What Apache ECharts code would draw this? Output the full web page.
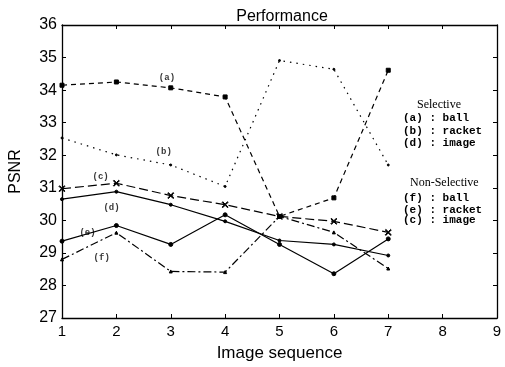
<!DOCTYPE html>
<html>
<head>
<meta charset="utf-8">
<script src="https://cdn.jsdelivr.net/npm/echarts@6/dist/echarts.min.js"></script>
<style>
  html, body { margin: 0; padding: 0; background: #fff; }
  #chart { width: 505px; height: 367px; }
</style>
</head>
<body>
<div id="chart"></div>
<script>
// image sequence index
const frames = [1, 2, 3, 4, 5, 6, 7];

// PSNR values
const ballSel      = [34.15, 34.25, 34.07, 33.79, 30.12, 30.69, 34.61]; // (a)
const racketSel    = [32.53, 32.01, 31.70, 31.04, 34.91, 34.64, 31.70]; // (b)
const imageNonSel  = [30.97, 31.14, 30.76, 30.48, 30.12, 29.97, 29.63]; // (c)
const imageSel     = [30.65, 30.88, 30.48, 29.97, 29.38, 29.26, 28.92]; // (d)
const racketNonSel = [29.36, 29.84, 29.26, 30.17, 29.26, 28.36, 29.43]; // (e)
const ballNonSel   = [28.80, 29.62, 28.43, 28.41, 30.12, 29.63, 28.52]; // (f)

// curve tags placed inside the plot (data coords)
const tagNames = ['(a)', '(b)', '(c)', '(d)', '(e)', '(f)'];
const tagX     = [2.93, 2.87, 1.71, 1.91, 1.47, 1.73];
const tagY     = [34.39, 32.10, 31.34, 30.39, 29.62, 28.86];

const xTicks = [1, 9];
const yTicks = [27, 36];

const pairs = (ys) => frames.map((x, i) => [x, ys[i]]);

const crossPath = 'path://M0,1L1,0L5,4L9,0L10,1L6,5L10,9L9,10L5,6L1,10L0,9L4,5Z';

function lineSeries(name, ys, dash, symbol, size) {
  return {
    name: name,
    type: 'line',
    data: pairs(ys),
    symbol: symbol,
    symbolSize: size,
    showSymbol: true,
    lineStyle: { color: '#000', width: 1.2, type: dash },
    itemStyle: { color: '#000', borderColor: '#000' },
    animation: false,
    silent: true
  };
}

const chart = echarts.init(document.getElementById('chart'), null, { renderer: 'canvas' });

const monoFont = '"Liberation Mono", "DejaVu Sans Mono", monospace';
const sansFont = '"Liberation Sans", Arial, sans-serif';
const serifFont = '"Liberation Serif", "DejaVu Serif", serif';

const legendLines = [
  { t: 'Selective', x: 417, y: 99, f: serifFont },
  { t: '(a) : ball', x: 403, y: 113, f: monoFont },
  { t: '(b) : racket', x: 403, y: 126, f: monoFont },
  { t: '(d) : image', x: 403, y: 138, f: monoFont },
  { t: 'Non-Selective', x: 410, y: 177, f: serifFont },
  { t: '(f) : ball', x: 403, y: 193, f: monoFont },
  { t: '(e) : racket', x: 403, y: 205, f: monoFont },
  { t: '(c) : image', x: 403, y: 215, f: monoFont }
];

const option = {
  backgroundColor: '#fff',
  title: {
    text: 'Performance',
    left: 277,
    top: 4,
    textAlign: 'center',
    textStyle: { fontFamily: sansFont, fontSize: 16, fontWeight: 'normal', color: '#000' }
  },
  grid: { left: 57, right: 8, top: 25, bottom: 48, containLabel: false },
  xAxis: [
    {
      type: 'value', min: xTicks[0], max: xTicks[1], interval: 1,
      name: 'Image sequence', nameLocation: 'middle', nameGap: 27,
      nameTextStyle: { fontFamily: sansFont, fontSize: 17, color: '#000' },
      axisLine: { show: true, lineStyle: { color: '#000', width: 1.3 } },
      axisTick: { show: true, inside: true, length: 4, lineStyle: { color: '#000' } },
      axisLabel: { fontFamily: sansFont, fontSize: 15, color: '#000', margin: 6 },
      splitLine: { show: false }
    },
    {
      type: 'value', min: xTicks[0], max: xTicks[1], interval: 1, position: 'top',
      axisLine: { show: true, lineStyle: { color: '#000', width: 1.3 } },
      axisTick: { show: true, inside: true, length: 4, lineStyle: { color: '#000' } },
      axisLabel: { show: false },
      splitLine: { show: false }
    }
  ],
  yAxis: [
    {
      type: 'value', min: yTicks[0], max: yTicks[1], interval: 1,
      name: 'PSNR', nameLocation: 'middle', nameGap: 38,
      nameTextStyle: { fontFamily: sansFont, fontSize: 16, color: '#000' },
      axisLine: { show: true, lineStyle: { color: '#000', width: 1.3 } },
      axisTick: { show: true, inside: true, length: 4, lineStyle: { color: '#000' } },
      axisLabel: { fontFamily: sansFont, fontSize: 16, color: '#000', margin: 5, padding: [6, 0, 0, 0] },
      splitLine: { show: false }
    },
    {
      type: 'value', min: yTicks[0], max: yTicks[1], interval: 1, position: 'right',
      axisLine: { show: true, lineStyle: { color: '#000', width: 1.3 } },
      axisTick: { show: true, inside: true, length: 4, lineStyle: { color: '#000' } },
      axisLabel: { show: false },
      splitLine: { show: false }
    }
  ],
  series: [
    lineSeries('(a) ball selective', ballSel, [5, 4], 'rect', 4),
    lineSeries('(b) racket selective', racketSel, [1.5, 5], 'circle', 2),
    lineSeries('(c) image non-selective', imageNonSel, [9, 4], crossPath, 6),
    lineSeries('(d) image selective', imageSel, 'solid', 'circle', 3),
    lineSeries('(e) racket non-selective', racketNonSel, 'solid', 'circle', 4),
    lineSeries('(f) ball non-selective', ballNonSel, [8, 3, 2, 3], 'triangle', 3),
    {
      name: 'tags',
      type: 'scatter',
      symbol: 'circle',
      symbolSize: 1,
      itemStyle: { color: 'rgba(0,0,0,0)' },
      data: tagNames.map((n, i) => ({ name: n, value: [tagX[i], tagY[i]] })),
      label: {
        show: true,
        position: 'inside',
        formatter: (p) => p.name,
        fontFamily: monoFont,
        fontSize: 9,
        fontWeight: 'bold',
        color: '#000'
      },
      animation: false,
      silent: true
    }
  ],
  graphic: legendLines.map((l) => ({
    type: 'text',
    left: l.x,
    top: l.y,
    style: {
      text: l.t,
      fontFamily: l.f,
      fontSize: l.f === monoFont ? 11 : 12,
      fontWeight: l.f === monoFont ? 'bold' : 'normal',
      fill: '#000'
    }
  }))
};

chart.setOption(option);
</script>
</body>
</html>
